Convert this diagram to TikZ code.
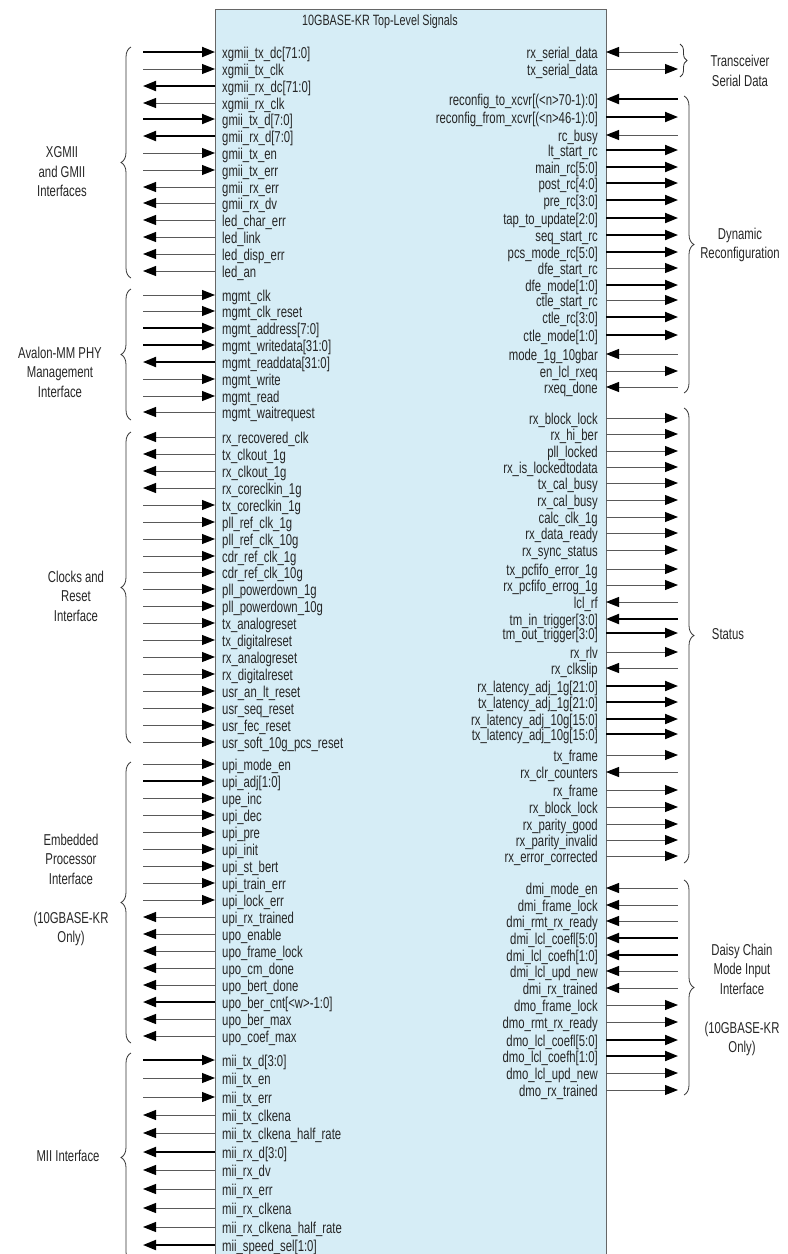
\documentclass[tikz,border=0pt]{standalone}
\usepackage{xcolor}
\usepackage{fontspec}
\setmainfont[FakeStretch=0.72]{Liberation Sans}
\usetikzlibrary{arrows.meta,decorations.pathreplacing}
\definecolor{boxblue}{RGB}{214,237,246}
\tikzset{%
  >={Triangle[length=13bp,width=10bp,color=black]},
  inp/.style={<-},
  outp/.style={->},
  one/.style={line width=0.9bp, draw=black!65},
  bus/.style={line width=1.9bp, draw=black},
  sigtxt/.style={inner sep=0pt, font=\fontsize{15.8}{18}\selectfont, text=black!85},
  grptxt/.style={inner sep=0pt, align=center, font=\fontsize{15.8}{19.5}\selectfont, text=black!85},
  grpbrace/.style={decorate, decoration={brace, amplitude=#1}, draw=black!80, line width=0.8bp},
  grpbrace/.default=10bp,
}

\begin{document}
\begin{tikzpicture}[x=1bp, y=-1bp]
      \useasboundingbox (0,0) rectangle (788,1254);%
      \def\lx{222} \def\rx{598}%

      % block
      \node[draw=black!60, fill=boxblue, line width=0.9bp, inner sep=0pt,
        minimum width=391bp, minimum height=1256bp, anchor=north west] (box) at (215,9) {};%
      \node[sigtxt, anchor=base west, font=\fontsize{15}{18}\selectfont] (title) at (302,25) {10GBASE-KR Top-Level Signals};%

      % left side signals
      \foreach \sy/\stxt/\sdir/\swd in {%
        52/xgmii\_tx\_dc[71:0]/inp/bus, 69/xgmii\_tx\_clk/inp/one,
        86/xgmii\_rx\_dc[71:0]/outp/bus, 103/xgmii\_rx\_clk/outp/one,
        119/gmii\_tx\_d[7:0]/inp/bus, 136/gmii\_rx\_d[7:0]/outp/bus,
        153/gmii\_tx\_en/inp/one, 170/gmii\_tx\_err/inp/one,
        187/gmii\_rx\_err/outp/one, 203/gmii\_rx\_dv/outp/one,
        220/led\_char\_err/outp/one, 237/led\_link/outp/one,
        254/led\_disp\_err/outp/one, 271/led\_an/outp/one,
        295/mgmt\_clk/inp/one, 311/mgmt\_clk\_reset/inp/one,
        328/mgmt\_address[7:0]/inp/bus, 345/mgmt\_writedata[31:0]/inp/bus,
        362/mgmt\_readdata[31:0]/outp/bus, 379/mgmt\_write/inp/one,
        396/mgmt\_read/inp/one, 412/mgmt\_waitrequest/outp/one,
        437/rx\_recovered\_clk/outp/one, 454/tx\_clkout\_1g/outp/one,
        471/rx\_clkout\_1g/outp/one, 488/rx\_coreclkin\_1g/outp/one,
        505/tx\_coreclkin\_1g/inp/one, 522/pll\_ref\_clk\_1g/inp/one,
        539/pll\_ref\_clk\_10g/inp/one, 556/cdr\_ref\_clk\_1g/inp/one,
        572/cdr\_ref\_clk\_10g/inp/one, 589/pll\_powerdown\_1g/inp/one,
        606/pll\_powerdown\_10g/inp/one, 623/tx\_analogreset/inp/one,
        640/tx\_digitalreset/inp/one, 657/rx\_analogreset/inp/one,
        674/rx\_digitalreset/inp/one, 691/usr\_an\_lt\_reset/inp/one,
        708/usr\_seq\_reset/inp/one, 725/usr\_fec\_reset/inp/one,
        742/usr\_soft\_10g\_pcs\_reset/inp/one,
        764/upi\_mode\_en/inp/one, 781/upi\_adj[1:0]/inp/bus,
        798/upe\_inc/inp/one, 815/upi\_dec/inp/one,
        832/upi\_pre/inp/one, 849/upi\_init/inp/one,
        866/upi\_st\_bert/inp/one, 883/upi\_train\_err/inp/one,
        900/upi\_lock\_err/inp/one, 917/upi\_rx\_trained/outp/one,
        934/upo\_enable/outp/one, 951/upo\_frame\_lock/outp/one,
        968/upo\_cm\_done/outp/one, 985/upo\_bert\_done/outp/one,
        1002/upo\_ber\_cnt[<w>-1:0]/outp/bus, 1019/upo\_ber\_max/outp/one,
        1036/upo\_coef\_max/outp/one,
        1060/mii\_tx\_d[3:0]/inp/bus, 1078/mii\_tx\_en/inp/one,
        1097/mii\_tx\_err/inp/one, 1115/mii\_tx\_clkena/outp/one,
        1133/mii\_tx\_clkena\_half\_rate/outp/one, 1152/mii\_rx\_d[3:0]/outp/bus,
        1170/mii\_rx\_dv/outp/one, 1189/mii\_rx\_err/outp/one,
        1208/mii\_rx\_clkena/outp/one, 1227/mii\_rx\_clkena\_half\_rate/outp/one,
        1245/mii\_speed\_sel[1:0]/outp/bus}{%
        \coordinate (Le\sy) at (215,\sy);
        \coordinate (Lf\sy) at (143,\sy);
        \node[sigtxt, anchor=base west] (Lt\sy) at (\lx,\sy+6.5) {\stxt};
        \draw[\sdir,\swd] (Le\sy) -- (Lf\sy); }%

      % right side signals
      \foreach \sy/\stxt/\sdir/\swd in {%
        52/rx\_serial\_data/inp/one, 69/tx\_serial\_data/outp/one,
        99/reconfig\_to\_xcvr[(<n>70-1):0]/inp/bus,
        117/reconfig\_from\_xcvr[(<n>46-1):0]/outp/bus,
        135/rc\_busy/inp/one, 150/lt\_start\_rc/outp/bus,
        167/main\_rc[5:0]/outp/bus, 183/post\_rc[4:0]/outp/bus,
        200/pre\_rc[3:0]/outp/bus, 218/tap\_to\_update[2:0]/outp/bus,
        235/seq\_start\_rc/outp/bus, 252/pcs\_mode\_rc[5:0]/outp/bus,
        268/dfe\_start\_rc/outp/one, 285/dfe\_mode[1:0]/outp/bus,
        300/ctle\_start\_rc/outp/one, 317/ctle\_rc[3:0]/outp/bus,
        335/ctle\_mode[1:0]/outp/bus, 354/mode\_1g\_10gbar/inp/one,
        371/en\_lcl\_rxeq/outp/one, 387/rxeq\_done/inp/one,
        418/rx\_block\_lock/outp/one, 434/rx\_hi\_ber/outp/one,
        451/pll\_locked/outp/one, 467/rx\_is\_lockedtodata/outp/one,
        483/tx\_cal\_busy/outp/one, 500/rx\_cal\_busy/outp/one,
        517/calc\_clk\_1g/outp/one, 533/rx\_data\_ready/outp/one,
        550/rx\_sync\_status/outp/one, 569/tx\_pcfifo\_error\_1g/outp/one,
        585/rx\_pcfifo\_errog\_1g/outp/one, 602/lcl\_rf/inp/one,
        619/tm\_in\_trigger[3:0]/inp/bus, 633/tm\_out\_trigger[3:0]/outp/bus,
        652/rx\_rlv/outp/one, 668/rx\_clkslip/inp/one,
        686/rx\_latency\_adj\_1g[21:0]/outp/bus, 702/tx\_latency\_adj\_1g[21:0]/outp/bus,
        719/rx\_latency\_adj\_10g[15:0]/outp/bus, 734/tx\_latency\_adj\_10g[15:0]/outp/bus,
        755/tx\_frame/outp/one, 772/rx\_clr\_counters/inp/one,
        790/rx\_frame/outp/one, 807/rx\_block\_lock/outp/one,
        824/rx\_parity\_good/outp/one, 840/rx\_parity\_invalid/outp/one,
        856/rx\_error\_corrected/outp/one,
        888/dmi\_mode\_en/inp/one, 905/dmi\_frame\_lock/inp/one,
        921/dmi\_rmt\_rx\_ready/inp/one, 938/dmi\_lcl\_coefl[5:0]/inp/bus,
        955/dmi\_lcl\_coefh[1:0]/inp/bus, 971/dmi\_lcl\_upd\_new/inp/one,
        988/dmi\_rx\_trained/inp/one, 1005/dmo\_frame\_lock/outp/one,
        1022/dmo\_rmt\_rx\_ready/outp/one, 1040/dmo\_lcl\_coefl[5:0]/outp/bus,
        1056/dmo\_lcl\_coefh[1:0]/outp/bus, 1073/dmo\_lcl\_upd\_new/outp/one,
        1090/dmo\_rx\_trained/outp/one}{%
        \coordinate (Re\sy) at (606,\sy);
        \coordinate (Rf\sy) at (678,\sy);
        \node[sigtxt, anchor=base east] (Rt\sy) at (\rx,\sy+6.5) {\stxt};
        \draw[\sdir,\swd] (Re\sy) -- (Rf\sy); }%

      % groups, left
      \draw[grpbrace] (131,278) -- (131,47);%
      \draw[grpbrace] (131,420) -- (131,289);%
      \draw[grpbrace] (131,743) -- (131,432);%
      \draw[grpbrace] (131,1043) -- (131,762);%
      \draw[grpbrace] (131,1262) -- (131,1053);%
      \node[grptxt] (gXgmii) at (62,172) {XGMII\\and GMII\\Interfaces};%
      \node[grptxt] (gAvalon) at (60,372) {Avalon-MM PHY\\Management\\Interface};%
      \node[grptxt] (gClock) at (76,596) {Clocks and\\Reset\\Interface};%
      \node[grptxt] (gEmbed) at (71,890) {Embedded\\Processor\\Interface\\[20bp](10GBASE-KR\\Only)};%
      \node[grptxt] (gMii) at (68,1156) {MII Interface};%

      % groups, right
      \draw[grpbrace=7bp] (680,44) -- (680,77);%
      \draw[grpbrace] (684,96) -- (684,393);%
      \draw[grpbrace] (684,408) -- (684,863);%
      \draw[grpbrace] (684,880) -- (684,1095);%
      \node[grptxt] (gSerial) at (740,71) {Transceiver\\Serial Data};%
      \node[grptxt] (gReconf) at (740,245) {Dynamic\\Reconfiguration};%
      \node[grptxt] (gStatus) at (728,634) {Status};%
      \node[grptxt] (gDaisy) at (742,1000) {Daisy Chain\\Mode Input\\Interface\\[20bp](10GBASE-KR\\Only)};%
\end{tikzpicture}
\end{document}
